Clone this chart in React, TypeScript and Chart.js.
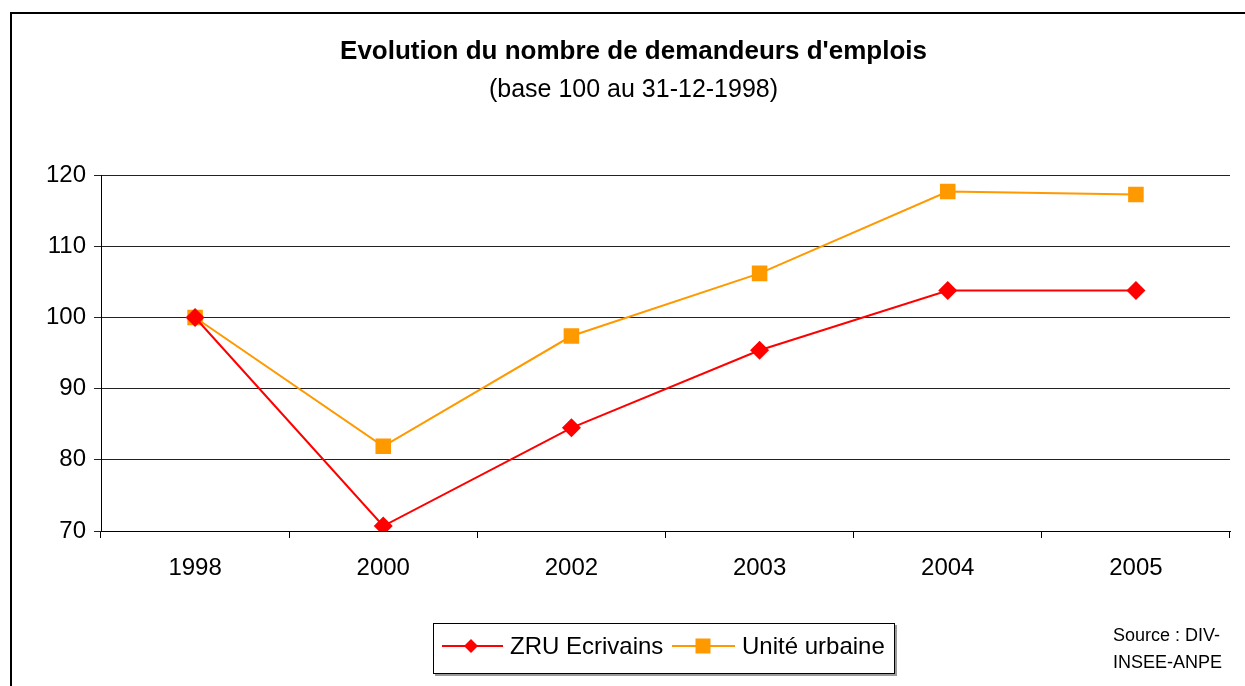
import React, { useEffect, useRef } from "react";
import { Chart, registerables } from "chart.js";

Chart.register(...registerables);

const TITLE = "Evolution du nombre de demandeurs d'emplois";
const SUBTITLE = "(base 100 au 31-12-1998)";
const YEARS = ["1998", "2000", "2002", "2003", "2004", "2005"];
const ZRU_LABEL = "ZRU Ecrivains";
const ZRU_VALUES = [100, 70.7, 84.5, 95.4, 103.8, 103.8];
const UNITE_LABEL = "Unité urbaine";
const UNITE_VALUES = [100, 81.9, 97.4, 106.2, 117.7, 117.3];
const Y_MIN = 70;
const Y_MAX = 120;
const Y_STEP = 10;
const SOURCE_LINES = ["Source : DIV-", "INSEE-ANPE"];

const FONT = "'Liberation Sans', Arial, Helvetica, sans-serif";
const RED = "#FF0000";
const ORANGE = "#FF9900";

function drawMarker(ctx: CanvasRenderingContext2D, style: string, x: number, y: number, r: number, color: string) {
  ctx.save();
  ctx.fillStyle = color;
  ctx.beginPath();
  if (style === "rectRot") {
    ctx.moveTo(x, y - r);
    ctx.lineTo(x + r, y);
    ctx.lineTo(x, y + r);
    ctx.lineTo(x - r, y);
    ctx.closePath();
  } else {
    ctx.rect(x - r, y - r, 2 * r, 2 * r);
  }
  ctx.fill();
  ctx.restore();
}

const legendBoxPlugin = {
  id: "legendBox",
  afterDraw(chart: any) {
    const ctx: CanvasRenderingContext2D = chart.ctx;
    const bx = 433, by = 623, bw = 462, bh = 51;
    ctx.save();
    ctx.fillStyle = "#9a9a9a";
    ctx.fillRect(bx + 2, by + bh, bw, 2);
    ctx.fillRect(bx + bw, by + 2, 2, bh);
    ctx.fillStyle = "#fff";
    ctx.fillRect(bx, by, bw, bh);
    ctx.strokeStyle = "#000";
    ctx.lineWidth = 1;
    ctx.strokeRect(bx + 0.5, by + 0.5, bw - 1, bh - 1);
    const cy = by + 23;
    const items = [
      { x0: 442, x1: 503, mx: 471, tx: 510, mr: 7, r: 0 },
      { x0: 672, x1: 735, mx: 703, tx: 742, mr: 7.5, r: 1 },
    ];
    items.forEach((it) => {
      const ds = chart.data.datasets[it.r];
      ctx.strokeStyle = ds.borderColor;
      ctx.lineWidth = 2;
      ctx.beginPath();
      ctx.moveTo(it.x0, cy);
      ctx.lineTo(it.x1, cy);
      ctx.stroke();
      drawMarker(ctx, ds.pointStyle, it.mx, cy, it.mr, ds.pointBackgroundColor);
      ctx.fillStyle = "#000";
      ctx.font = `24px ${FONT}`;
      ctx.textBaseline = "middle";
      ctx.textAlign = "left";
      ctx.fillText(ds.label, it.tx, cy + 1);
    });
    ctx.restore();
  },
};

export default function App() {
  const canvasRef = useRef<HTMLCanvasElement | null>(null);

  useEffect(() => {
    if (!canvasRef.current) return;
    const chart = new Chart(canvasRef.current, {
      type: "line",
      data: {
        labels: YEARS,
        datasets: [
          {
            label: ZRU_LABEL,
            data: ZRU_VALUES,
            borderColor: RED,
            backgroundColor: RED,
            pointBackgroundColor: RED,
            pointBorderColor: RED,
            pointBorderWidth: 0,
            pointStyle: "rectRot",
            pointRadius: 9.5,
            borderWidth: 2,
            tension: 0,
          },
          {
            label: UNITE_LABEL,
            data: UNITE_VALUES,
            borderColor: ORANGE,
            backgroundColor: ORANGE,
            pointBackgroundColor: ORANGE,
            pointBorderColor: ORANGE,
            pointBorderWidth: 0,
            pointStyle: "rect",
            pointRadius: 11,
            borderWidth: 2,
            tension: 0,
          },
        ],
      },
      options: {
        animation: false,
        responsive: false,
        maintainAspectRatio: false,
        devicePixelRatio: 1,
        layout: { padding: { left: 37, right: 15, top: 0, bottom: 0 } },
        plugins: {
          legend: { display: false },
          tooltip: { enabled: false },
          title: {
            display: true,
            text: TITLE,
            color: "#000",
            font: { family: FONT, size: 26, weight: "bold" },
            padding: { top: 36, bottom: 0 },
          },
          subtitle: {
            display: true,
            text: SUBTITLE,
            color: "#000",
            font: { family: FONT, size: 25, weight: "normal" },
            padding: { top: 8, bottom: 70 },
          },
        },
        scales: {
          x: {
            type: "category",
            offset: true,
            grid: { offset: true, drawOnChartArea: false, drawTicks: true, tickLength: 7, color: "#000" },
            border: { display: true, color: "#000", width: 1 },
            ticks: { color: "#000", font: { family: FONT, size: 24 }, padding: 16, maxRotation: 0 },
            afterFit: (s: any) => {
              s.height = 155;
            },
          },
          y: {
            min: Y_MIN,
            max: Y_MAX,
            ticks: { stepSize: Y_STEP, color: "#000", font: { family: FONT, size: 24 }, padding: 8 },
            grid: { color: "#222", lineWidth: 1, tickLength: 7 },
            border: { display: true, color: "#000", width: 1 },
            afterFit: (s: any) => {
              s.width = 64;
            },
          },
        },
      },
      plugins: [legendBoxPlugin],
    } as any);
    return () => chart.destroy();
  }, []);

  return (
    <div style={{ position: "absolute", left: 0, top: 0, width: 1245, height: 686, background: "#fff", overflow: "hidden" }}>
      <div
        style={{
          position: "absolute",
          left: 10,
          top: 12,
          right: 0,
          bottom: 0,
          borderTop: "2px solid #000",
          borderLeft: "2px solid #000",
        }}
      />
      <canvas
        ref={canvasRef}
        width={1245}
        height={686}
        style={{ position: "absolute", left: 0, top: 0, width: 1245, height: 686 }}
      />
      <div
        style={{
          position: "absolute",
          left: 1113,
          top: 622,
          fontFamily: FONT,
          fontSize: 18,
          lineHeight: "27px",
          color: "#000",
          whiteSpace: "nowrap",
        }}
      >
        {SOURCE_LINES.map((l, i) => (
          <div key={i}>{l}</div>
        ))}
      </div>
    </div>
  );
}
